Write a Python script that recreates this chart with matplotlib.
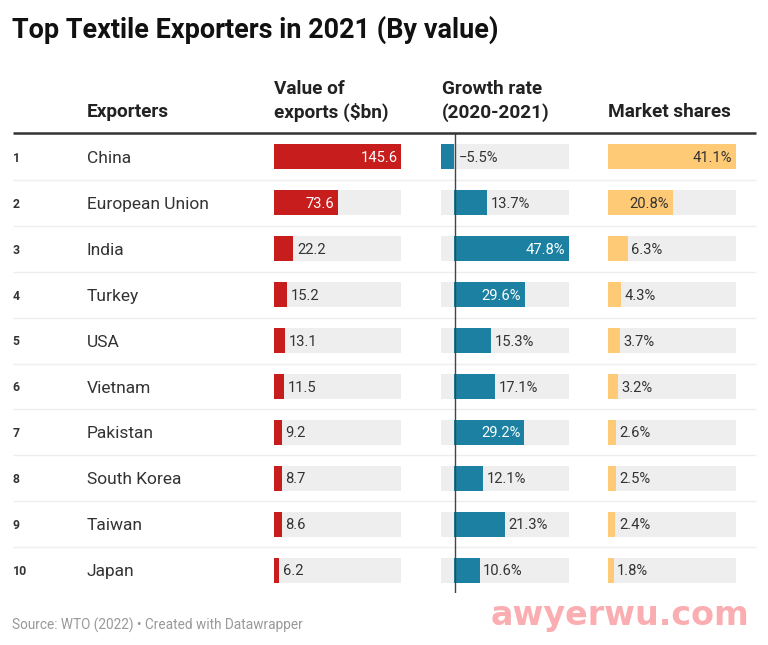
import matplotlib
matplotlib.use("Agg")
import matplotlib.pyplot as plt

plt.rcParams['font.family'] = ['Roboto', 'DejaVu Sans']

ranks = [1, 2, 3, 4, 5, 6, 7, 8, 9, 10]
exporters = ["China", "European Union", "India", "Turkey", "USA", "Vietnam",
             "Pakistan", "South Korea", "Taiwan", "Japan"]
export_values = [145.6, 73.6, 22.2, 15.2, 13.1, 11.5, 9.2, 8.7, 8.6, 6.2]
growth_rates = [-5.5, 13.7, 47.8, 29.6, 15.3, 17.1, 29.2, 12.1, 21.3, 10.6]
market_shares = [41.1, 20.8, 6.3, 4.3, 3.7, 3.2, 2.6, 2.5, 2.4, 1.8]

W, H = 768, 645
DARK = "#333333"
BG = "#eeeeee"
fig = plt.figure(figsize=(W / 100, H / 100), dpi=100, facecolor="white")


def px_axes(x0, y0, x1, y1, **kw):
    return fig.add_axes([x0 / W, 1 - y1 / H, (x1 - x0) / W, (y1 - y0) / H], **kw)


TOP, BOTTOM = 134.0, 593.0
LEFT, RIGHT = 12.5, 755.5

# full-width table axes: rows in data units, x in pixels
tbl = px_axes(0, TOP, W, BOTTOM)
tbl.set_xlim(0, W)
tbl.set_ylim(len(ranks) - 0.5, -0.5)
tbl.axis("off")
for i in range(len(ranks) - 1):
    tbl.plot([LEFT, RIGHT], [i + 0.5, i + 0.5], color="#eeeeee", lw=1.0, solid_capstyle="butt")
for i, (r, name) in enumerate(zip(ranks, exporters)):
    tbl.text(LEFT, i + 0.03, str(r), fontsize=8.8, fontweight="bold", color=DARK, va="center", ha="left")
    tbl.text(86.8, i + 0.035, name, fontsize=12.5, color=DARK, va="center", ha="left")


def bar_column(x0, x1, values, lo, hi, color, fmt, inside_min):
    ax = px_axes(x0, TOP, x1, BOTTOM)
    ax.patch.set_alpha(0)
    ax.set_xlim(lo, hi)
    ax.set_ylim(len(values) - 0.5, -0.5)
    ax.axis("off")
    ys = list(range(len(values)))
    ax.barh(ys, [hi - lo] * len(values), left=lo, height=0.545, color=BG, lw=0)
    ax.barh(ys, values, height=0.545, color=color, lw=0)
    for y, v in zip(ys, values):
        txt = fmt(v)
        if v < 0:
            ax.annotate(txt, (0, y), xytext=(3.5, -0.8), textcoords="offset points",
                        fontsize=10.6, color=DARK, va="center", ha="left")
        elif v >= inside_min:
            tc = "white" if color != "#ffca76" else DARK
            ax.annotate(txt, (v, y), xytext=(-2.7, -0.8), textcoords="offset points",
                        fontsize=10.6, color=tc, va="center", ha="right")
        else:
            ax.annotate(txt, (v, y), xytext=(2.6, -0.8), textcoords="offset points",
                        fontsize=10.6, color=DARK, va="center", ha="left")
    return ax


bar_column(274, 401.5, export_values, 0, 145.6, "#c71e1d", lambda v: f"{v:.1f}", 70)
g = bar_column(441, 568.5, growth_rates, -5.5, 47.8, "#1b80a1",
               lambda v: f"{v:.1f}%".replace("-", "\u2212"), 29)
g.axvline(0.2, color="#444444", lw=1.0, ymin=0.002, ymax=1, zorder=5)
bar_column(608, 736, market_shares, 0, 41.1, "#ffca76", lambda v: f"{v:.1f}%", 20)

# overlay in pixel space for titles, header and footer
ov = px_axes(0, 0, W, H)
ov.set_xlim(0, W)
ov.set_ylim(H, 0)
ov.axis("off")
ov.patch.set_alpha(0)

ov.text(12, 29.5, "Top Textile Exporters in 2021 (By value)", fontsize=19.45, fontweight="bold",
        color="#111111", va="center", ha="left")
hdr = dict(fontsize=13.7, fontweight="bold", color="#222222", ha="left", va="center")
ov.text(86.5, 112.3, "Exporters", **hdr)
ov.text(274, 89.5, "Value of", **hdr)
ov.text(274, 112.3, "exports ($bn)", **hdr)
ov.text(441.5, 89.5, "Growth rate", **hdr)
ov.text(441.5, 112.3, "(2020-2021)", **hdr)
ov.text(608.5, 112.3, "Market shares", **hdr)
ov.plot([LEFT, RIGHT], [133, 133], color="#333333", lw=1.8, solid_capstyle="butt")
ov.text(12, 625, "Source: WTO (2022) \u2022 Created with Datawrapper", fontsize=9.8, color="#999999",
        va="center", ha="left")
ov.text(620, 615.5, "awyerwu.com", fontsize=24, fontweight="bold", color="#fbaeb1",
        va="center", ha="center", family="DejaVu Sans")

fig.savefig("out.png", dpi=100, facecolor="white")
